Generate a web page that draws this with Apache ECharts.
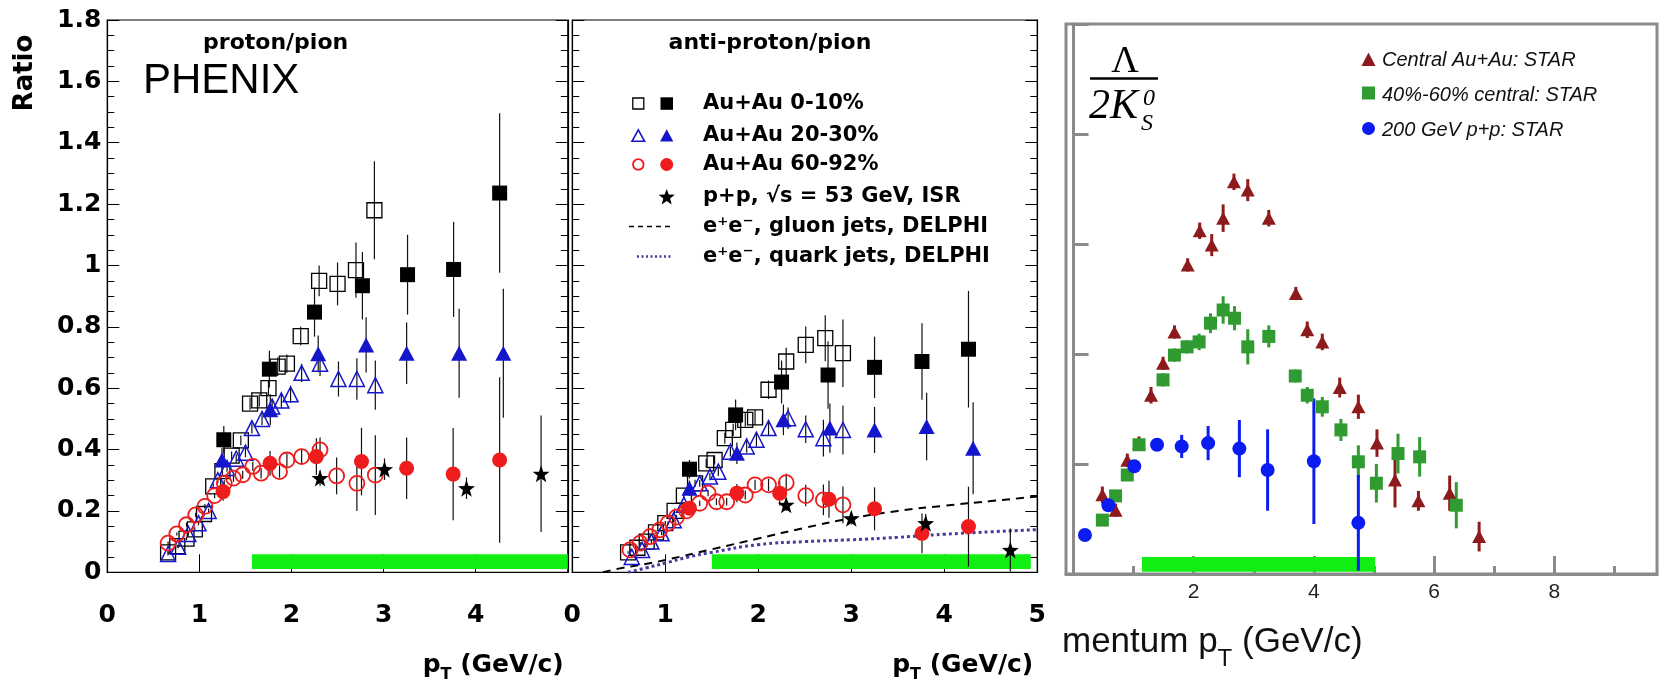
<!DOCTYPE html>
<html><head><meta charset="utf-8">
<script src="https://cdn.jsdelivr.net/npm/echarts@6/dist/echarts.min.js"></script>
<style>html,body{margin:0;padding:0;background:#fff}#c{width:1660px;height:682px}</style>
</head><body><div id="c"></div>
<script>
// ---------- Panel 1: proton/pion  [pT, ratio, err] ----------
const p_open_sq = [[0.66,0.065,0.005],[0.76,0.085,0.005],[0.86,0.11,0.006],[0.95,0.14,0.007],[1.05,0.19,0.008],[1.15,0.28,0.01],[1.25,0.33,0.012],[1.35,0.38,0.014],[1.45,0.43,0.016],[1.55,0.55,0.02],[1.65,0.56,0.02],[1.75,0.6,0.025],[1.85,0.67,0.03],[1.95,0.68,0.03],[2.1,0.77,0.03],[2.3,0.95,0.05],[2.5,0.94,0.07],[2.7,0.985,0.09],[2.9,1.18,0.16]];
const p_fill_sq = [[1.265,0.432,0.045],[1.76,0.662,0.06],[2.25,0.848,0.08],[2.77,0.934,0.11],[3.26,0.97,0.13],[3.76,0.987,0.155],[4.26,1.236,0.26]];
const p_open_tri = [[0.66,0.06,0.005],[0.77,0.083,0.005],[0.88,0.125,0.006],[0.99,0.16,0.007],[1.1,0.2,0.008],[1.2,0.3,0.01],[1.3,0.34,0.012],[1.4,0.37,0.014],[1.5,0.39,0.015],[1.57,0.47,0.018],[1.68,0.5,0.02],[1.79,0.54,0.022],[1.89,0.56,0.025],[1.99,0.58,0.028],[2.11,0.65,0.03],[2.31,0.68,0.04],[2.51,0.63,0.057],[2.71,0.63,0.068],[2.91,0.61,0.08]];
const p_fill_tri = [[1.245,0.366,0.04],[1.77,0.53,0.05],[2.29,0.712,0.06],[2.81,0.741,0.09],[3.25,0.714,0.1],[3.82,0.714,0.145],[4.30,0.714,0.21]];
const p_open_circ = [[0.66,0.095,0.005],[0.755,0.125,0.005],[0.86,0.155,0.006],[0.96,0.187,0.007],[1.06,0.215,0.008],[1.165,0.25,0.009],[1.27,0.29,0.01],[1.37,0.307,0.012],[1.47,0.318,0.013],[1.58,0.345,0.015],[1.67,0.323,0.017],[1.87,0.328,0.02],[1.95,0.366,0.022],[2.11,0.377,0.025],[2.31,0.399,0.04],[2.49,0.314,0.06],[2.71,0.29,0.09],[2.91,0.317,0.13]];
const p_fill_circ = [[1.257,0.263,0.03],[1.767,0.355,0.04],[2.27,0.377,0.06],[2.76,0.361,0.11],[3.25,0.339,0.1],[3.755,0.32,0.15],[4.26,0.366,0.27]];
const p_star = [[2.31,0.307,0.025],[3.01,0.336,0.035],[3.90,0.274,0.035],[4.71,0.321,0.19]];

// ---------- Panel 2: anti-proton/pion ----------
const pb_open_sq = [[0.6,0.065,0.004],[0.7,0.08,0.005],[0.8,0.1,0.005],[0.9,0.13,0.006],[1.0,0.16,0.007],[1.1,0.2,0.008],[1.2,0.25,0.01],[1.32,0.29,0.012],[1.44,0.355,0.014],[1.53,0.366,0.015],[1.64,0.437,0.018],[1.73,0.464,0.02],[1.86,0.497,0.022],[1.965,0.505,0.025],[2.11,0.595,0.03],[2.3,0.687,0.045],[2.51,0.741,0.06],[2.72,0.763,0.075],[2.91,0.714,0.11]];
const pb_fill_sq = [[1.26,0.336,0.03],[1.756,0.513,0.05],[2.25,0.62,0.07],[2.75,0.643,0.11],[3.25,0.668,0.1],[3.76,0.687,0.125],[4.26,0.727,0.19]];
const pb_open_tri = [[0.64,0.05,0.004],[0.75,0.073,0.004],[0.85,0.1,0.005],[0.96,0.127,0.006],[1.09,0.17,0.007],[1.2,0.22,0.009],[1.37,0.29,0.011],[1.48,0.312,0.012],[1.57,0.328,0.014],[1.7,0.393,0.016],[1.875,0.41,0.02],[1.98,0.432,0.022],[2.11,0.47,0.026],[2.32,0.502,0.035],[2.51,0.466,0.045],[2.70,0.437,0.06],[2.91,0.464,0.08]];
const pb_fill_tri = [[1.26,0.274,0.025],[1.77,0.388,0.035],[2.27,0.497,0.05],[2.77,0.47,0.08],[3.25,0.464,0.075],[3.81,0.475,0.11],[4.31,0.404,0.15]];
const pb_open_circ = [[0.62,0.073,0.004],[0.73,0.095,0.004],[0.835,0.116,0.005],[0.94,0.138,0.005],[1.03,0.16,0.006],[1.12,0.18,0.007],[1.23,0.2,0.008],[1.37,0.225,0.009],[1.46,0.258,0.01],[1.55,0.23,0.011],[1.66,0.23,0.012],[1.86,0.252,0.015],[1.965,0.285,0.017],[2.11,0.285,0.02],[2.3,0.292,0.03],[2.51,0.25,0.035],[2.7,0.236,0.05],[2.91,0.22,0.06]];
const pb_fill_circ = [[1.26,0.209,0.02],[1.77,0.258,0.03],[2.23,0.258,0.04],[2.76,0.238,0.06],[3.25,0.207,0.07],[3.76,0.127,0.065],[4.26,0.149,0.13]];
const pb_star = [[2.30,0.22,0.02],[3.0,0.176,0.02],[3.80,0.16,0.03],[4.71,0.073,0.07]];
const gluon_jets = [[0.33,0.0],[0.5,0.012],[0.75,0.025],[1.0,0.04],[1.5,0.075],[2.0,0.11],[2.5,0.145],[3.0,0.176],[3.5,0.2],[4.0,0.217],[4.5,0.232],[5.0,0.247]];
const quark_jets = [[0.6,0.0],[0.8,0.015],[1.0,0.03],[1.25,0.05],[1.5,0.065],[2.0,0.09],[2.5,0.1],[3.0,0.106],[3.5,0.114],[4.0,0.124],[4.5,0.132],[5.0,0.139]];

// ---------- Panel 3: Lambda / 2K0s ----------
const l_central = [[0.48,0.144,0.015],[0.70,0.116,0.012],[0.895,0.207,0.012],[1.09,0.238,0.012],[1.29,0.325,0.015],[1.49,0.383,0.012],[1.68,0.44,0.012],[1.90,0.562,0.012],[2.10,0.624,0.015],[2.30,0.598,0.02],[2.49,0.647,0.025],[2.67,0.713,0.015],[2.90,0.698,0.02],[3.25,0.647,0.015],[3.70,0.51,0.012],[3.89,0.444,0.015],[4.14,0.422,0.015],[4.43,0.339,0.018],[4.74,0.304,0.022],[5.05,0.238,0.025],[5.35,0.171,0.05],[5.74,0.133,0.018],[6.26,0.147,0.032],[6.75,0.068,0.027]];
const l_mid = [[0.48,0.098,0.01],[0.70,0.142,0.01],[0.895,0.18,0.01],[1.09,0.235,0.01],[1.49,0.353,0.012],[1.68,0.398,0.012],[1.89,0.413,0.012],[2.09,0.422,0.015],[2.28,0.456,0.018],[2.49,0.48,0.025],[2.68,0.465,0.022],[2.90,0.413,0.032],[3.25,0.432,0.02],[3.69,0.36,0.012],[3.89,0.325,0.015],[4.14,0.304,0.018],[4.45,0.262,0.02],[4.74,0.204,0.03],[5.04,0.165,0.035],[5.40,0.219,0.036],[5.76,0.213,0.036],[6.37,0.125,0.042]];
const l_pp = [[0.19,0.071,0.008],[0.58,0.125,0.006],[1.01,0.196,0.006],[1.39,0.235,0.008],[1.80,0.232,0.021],[2.24,0.238,0.031],[2.76,0.228,0.052],[3.23,0.189,0.074],[4.0,0.205,0.114],[4.74,0.093,0.087]];

// highlight bands [xStart, xEnd, yLow, yHigh]
const band1 = [[1.57,5.0,0.011,0.059]];
const band2 = [[1.50,4.93,0.011,0.059]];
const band3 = [[1.14,5.02,0.004,0.031]];

const xTicks3Major = [0,2,4,6,8];
const xTicks3Label = [2,4,6,8];
const xTicks3Minor = [1,3,5,7,9];

// ---------- styles ----------
const BLK='#000', BLU='#1515cc', RED='#ee1c1c';
const C_DR='#8e1b1b', C_GR='#2f9b30', C_BL='#0b1cf0';
const GREY='#8a8a8a', PURP='#4a3a9e';
const BF='DejaVu Sans';
const STAR='path://M0,-10 L2.35,-3.24 L9.51,-3.09 L3.8,1.24 L5.88,8.09 L0,4 L-5.88,8.09 L-3.8,1.24 L-9.51,-3.09 L-2.35,-3.24 Z';
const NONE='rgba(0,0,0,0)';

function starPts(cx, cy, R){
  const pts=[];
  for(let i=0;i<10;i++){const r=i%2?R*0.42:R; const a=-Math.PI/2+i*Math.PI/5; pts.push([cx+r*Math.cos(a), cy+r*Math.sin(a)]);}
  return pts;
}
function sc(data, xi, yi, symbol, size, fill, stroke, bw, z){
  return {type:'scatter', data:data.map(d=>[d[0],d[1]]), xAxisIndex:xi, yAxisIndex:yi,
    symbol, symbolSize:size, itemStyle:{color:fill, borderColor:stroke, borderWidth:bw, opacity:1},
    z, silent:true, animation:false};
}
function er(data, xi, yi, color, w, z){
  return {type:'custom', xAxisIndex:xi, yAxisIndex:yi,
    data:data.map(d=>[d[0], d[1]-d[2], d[1]+d[2]]), encode:{x:0, y:[1,2]},
    renderItem:(p,api)=>{const a=api.coord([api.value(0),api.value(1)]), b=api.coord([api.value(0),api.value(2)]);
      return {type:'line', shape:{x1:a[0],y1:a[1],x2:b[0],y2:b[1]}, style:{stroke:color, lineWidth:w}};},
    z, silent:true, animation:false};
}
function band(data, xi, yi){
  return {type:'custom', xAxisIndex:xi, yAxisIndex:yi, data, encode:{x:[0,1], y:[2,3]},
    renderItem:(p,api)=>{const a=api.coord([api.value(0),api.value(3)]), b=api.coord([api.value(1),api.value(2)]);
      return {type:'rect', shape:{x:a[0],y:a[1],width:b[0]-a[0],height:b[1]-a[1]}, style:{fill:'#11ee11'}};},
    z:1, silent:true, animation:false};
}

const yTickStyle = {show:true, inside:true, length:12, lineStyle:{color:BLK, width:1}};
const yMinor = {show:true, splitNumber:4, length:7, lineStyle:{color:BLK, width:1}};
function phY(grid, pos, labels){
  return {type:'value', gridIndex:grid, position:pos, min:0, max:1.8, interval:0.2,
    axisLine:{show:true, lineStyle:{color:BLK, width:1.2}}, axisTick:yTickStyle, minorTick:yMinor,
    splitLine:{show:false}, minorSplitLine:{show:false},
    axisLabel:{show:labels, fontFamily:BF, fontWeight:'bold', fontSize:25, color:BLK, margin:6}};
}
const ptRich = {a:{fontFamily:BF, fontWeight:'bold', fontSize:25, color:BLK, lineHeight:35, verticalAlign:'middle'},
                s:{fontFamily:BF, fontWeight:'bold', fontSize:16, color:BLK, verticalAlign:'bottom'}};
function phX(grid, hide5, gap){
  return {type:'value', gridIndex:grid, min:0, max:5, interval:1,
    axisLine:{show:true, lineStyle:{color:BLK, width:1.2}},
    axisTick:{show:true, inside:true, length:18, lineStyle:{color:BLK, width:1}},
    splitLine:{show:false},
    axisLabel:{fontFamily:BF, fontWeight:'bold', fontSize:25, color:BLK, margin:31,
      formatter:v=>(hide5 && v===5)?'':String(v)},
    name:'{a|p}{s|T}{a| (GeV/c)}', nameLocation:'end', nameGap:gap, nameMoveOverlap:false,
    nameTextStyle:{align:'right', verticalAlign:'top', padding:[76,0,0,0], rich:ptRich}};
}

const option = {
  backgroundColor:'#fff', animation:false,
  textStyle:{fontFamily:BF},
  grid:[
    {left:107.3, top:20, width:460.5, height:552.3, show:true, borderColor:BLK, borderWidth:1.2, backgroundColor:NONE, outerBoundsMode:'none'},
    {left:572.3, top:20, width:465, height:552.3, show:true, borderColor:BLK, borderWidth:1.2, backgroundColor:NONE, outerBoundsMode:'none'},
    {left:1066, top:24, width:591, height:550, show:true, borderColor:GREY, borderWidth:3, backgroundColor:NONE, outerBoundsMode:'none'},
    {left:1066, top:24, width:591, height:550, show:false, outerBoundsMode:'none'}
  ],
  xAxis:[
    phX(0, true, -4),
    phX(1, false, -4),
    {type:'value', gridIndex:2, min:-0.125, max:9.71,
      axisLine:{show:true, lineStyle:{color:GREY, width:3}},
      axisTick:{show:true, inside:true, length:18, customValues:xTicks3Major, lineStyle:{color:GREY, width:3}},
      axisLabel:{customValues:xTicks3Label, fontFamily:'Liberation Sans', fontSize:21, color:'#222', margin:8},
      splitLine:{show:false},
      name:'{a|mentum p}{s|T}{a| (GeV/c)}', nameLocation:'start', nameGap:4, nameMoveOverlap:false,
      nameTextStyle:{align:'left', verticalAlign:'top', padding:[39,0,0,0],
        rich:{a:{fontFamily:'Liberation Sans', fontSize:35, color:'#111', lineHeight:58, verticalAlign:'middle'},
              s:{fontFamily:'Liberation Sans', fontSize:24, color:'#111', verticalAlign:'bottom'}}}},
    {type:'value', gridIndex:3, min:-0.125, max:9.71,
      axisLine:{show:false}, axisLabel:{show:false}, splitLine:{show:false},
      axisTick:{show:true, inside:true, length:8, customValues:xTicks3Minor, lineStyle:{color:GREY, width:3}}}
  ],
  yAxis:[
    phY(0,'left',true), phY(0,'right',false), phY(1,'left',false), phY(1,'right',false),
    {type:'value', gridIndex:2, min:0, max:1, interval:0.2, position:'left',
      axisLine:{show:true, lineStyle:{color:GREY, width:3}},
      axisTick:{show:true, inside:true, length:15, lineStyle:{color:GREY, width:3}},
      axisLabel:{show:false}, splitLine:{show:false}},
    {type:'value', gridIndex:3, min:0, max:1, show:false}
  ],
  series:[
    band(band1,0,0), band(band2,1,2), band(band3,2,4),
    er(p_open_sq,0,0,'#111',1.2,3), er(p_fill_sq,0,0,'#111',1.2,3), er(p_open_tri,0,0,'#111',1.2,3),
    er(p_fill_tri,0,0,'#111',1.2,3), er(p_open_circ,0,0,'#111',1.2,3), er(p_fill_circ,0,0,'#111',1.2,3), er(p_star,0,0,'#111',1.2,3),
    sc(p_open_sq,0,0,'rect',15,NONE,BLK,1.3,5),
    sc(p_open_tri,0,0,'triangle',[15,15],NONE,BLU,1.5,5),
    sc(p_open_circ,0,0,'circle',15,NONE,RED,1.8,5),
    sc(p_fill_sq,0,0,'rect',15,BLK,BLK,0,6),
    sc(p_fill_tri,0,0,'triangle',[16,15],BLU,BLU,0,6),
    sc(p_fill_circ,0,0,'circle',15,RED,RED,0,6),
    sc(p_star,0,0,STAR,17,BLK,BLK,0,7),
    {type:'line', xAxisIndex:1, yAxisIndex:2, data:gluon_jets, smooth:true, showSymbol:false, silent:true,
      lineStyle:{color:BLK, width:2, type:[8,6]}, z:2},
    {type:'line', xAxisIndex:1, yAxisIndex:2, data:quark_jets, smooth:true, showSymbol:false, silent:true,
      lineStyle:{color:PURP, width:3, type:[3,3]}, z:2},
    er(pb_open_sq,1,2,'#111',1.2,3), er(pb_fill_sq,1,2,'#111',1.2,3), er(pb_open_tri,1,2,'#111',1.2,3),
    er(pb_fill_tri,1,2,'#111',1.2,3), er(pb_open_circ,1,2,'#111',1.2,3), er(pb_fill_circ,1,2,'#111',1.2,3), er(pb_star,1,2,'#111',1.2,3),
    sc(pb_open_sq,1,2,'rect',15,NONE,BLK,1.3,5),
    sc(pb_open_tri,1,2,'triangle',[15,15],NONE,BLU,1.5,5),
    sc(pb_open_circ,1,2,'circle',15,NONE,RED,1.8,5),
    sc(pb_fill_sq,1,2,'rect',15,BLK,BLK,0,6),
    sc(pb_fill_tri,1,2,'triangle',[16,15],BLU,BLU,0,6),
    sc(pb_fill_circ,1,2,'circle',15,RED,RED,0,6),
    sc(pb_star,1,2,STAR,17,BLK,BLK,0,7),
    er(l_central,2,4,C_DR,3,3), er(l_mid,2,4,C_GR,3,3), er(l_pp,2,4,C_BL,3,3),
    sc(l_central,2,4,'triangle',[14,13],C_DR,C_DR,0,5),
    sc(l_mid,2,4,'rect',13,C_GR,C_GR,0,5),
    sc(l_pp,2,4,'circle',14,C_BL,C_BL,0,6)
  ],
  graphic:{elements:[
    {type:'text', x:25, y:73, rotation:Math.PI/2, z:100, style:{text:'Ratio', font:'bold 26px "DejaVu Sans"', fill:BLK, align:'center', verticalAlign:'middle'}},
    {type:'text', x:143, y:81, z:100, style:{text:'PHENIX', font:'42px "Liberation Sans"', fill:BLK, align:'left', verticalAlign:'middle'}},
    {type:'text', x:275.6, y:43, z:100, style:{text:'proton/pion', font:'bold 22px "DejaVu Sans"', fill:BLK, align:'center', verticalAlign:'middle'}},
    {type:'text', x:770, y:43, z:100, style:{text:'anti-proton/pion', font:'bold 22px "DejaVu Sans"', fill:BLK, align:'center', verticalAlign:'middle'}},
    {type:'rect', z:100, shape:{x:632.8,y:98,width:11,height:11}, style:{fill:NONE, stroke:BLK, lineWidth:1.3}},
    {type:'rect', z:100, shape:{x:660.5,y:97.3,width:12.5,height:12.5}, style:{fill:BLK}},
    {type:'polygon', z:100, shape:{points:[[638.3,129.8],[644.6,141.3],[632,141.3]]}, style:{fill:NONE, stroke:BLU, lineWidth:1.6}},
    {type:'polygon', z:100, shape:{points:[[666.7,129.3],[673.3,141.6],[660.1,141.6]]}, style:{fill:BLU}},
    {type:'circle', z:100, shape:{cx:638.3,cy:164.5,r:5.3}, style:{fill:NONE, stroke:RED, lineWidth:1.8}},
    {type:'circle', z:100, shape:{cx:666.7,cy:164.5,r:6.5}, style:{fill:RED}},
    {type:'polygon', z:100, shape:{points:starPts(666.7,197.5,8.5)}, style:{fill:BLK}},
    {type:'line', z:100, shape:{x1:629,y1:226.5,x2:673,y2:226.5}, style:{stroke:BLK, lineWidth:1.5, lineDash:[5,4]}},
    {type:'line', z:100, shape:{x1:637,y1:256.5,x2:672,y2:256.5}, style:{stroke:PURP, lineWidth:2.4, lineDash:[2,2.5]}},
    {type:'text', x:703, y:103.5, z:100, style:{text:'Au+Au 0-10%', font:'bold 21px "DejaVu Sans"', fill:BLK, verticalAlign:'middle'}},
    {type:'text', x:703, y:135.5, z:100, style:{text:'Au+Au 20-30%', font:'bold 21px "DejaVu Sans"', fill:BLK, verticalAlign:'middle'}},
    {type:'text', x:703, y:164.5, z:100, style:{text:'Au+Au 60-92%', font:'bold 21px "DejaVu Sans"', fill:BLK, verticalAlign:'middle'}},
    {type:'text', x:703, y:196.5, z:100, style:{text:'p+p, √s = 53 GeV, ISR', font:'bold 21px "DejaVu Sans"', fill:BLK, verticalAlign:'middle'}},
    {type:'text', x:703, y:226.5, z:100, style:{text:'e⁺e⁻, gluon jets, DELPHI', font:'bold 21px "DejaVu Sans"', fill:BLK, verticalAlign:'middle'}},
    {type:'text', x:703, y:256.5, z:100, style:{text:'e⁺e⁻, quark jets, DELPHI', font:'bold 21px "DejaVu Sans"', fill:BLK, verticalAlign:'middle'}},
    {type:'text', x:1125, y:62, z:100, style:{text:'Λ', font:'38px "Liberation Serif"', fill:BLK, align:'center', verticalAlign:'middle'}},
    {type:'line', z:100, shape:{x1:1090,y1:78.5,x2:1158,y2:78.5}, style:{stroke:BLK, lineWidth:2.5}},
    {type:'text', x:1089, y:107, z:100, style:{text:'2K', font:'italic 42px "Liberation Serif"', fill:BLK, verticalAlign:'middle'}},
    {type:'text', x:1143, y:99, z:100, style:{text:'0', font:'italic 24px "Liberation Serif"', fill:BLK, verticalAlign:'middle'}},
    {type:'text', x:1141, y:124, z:100, style:{text:'S', font:'italic 24px "Liberation Serif"', fill:BLK, verticalAlign:'middle'}},
    {type:'polygon', z:100, shape:{points:[[1368.5,52.5],[1375.5,66],[1361.5,66]]}, style:{fill:C_DR}},
    {type:'rect', z:100, shape:{x:1362,y:86.5,width:13,height:13}, style:{fill:C_GR}},
    {type:'circle', z:100, shape:{cx:1368.5,cy:128.5,r:6.5}, style:{fill:C_BL}},
    {type:'text', x:1382, y:60, z:100, style:{text:'Central Au+Au: STAR', font:'italic 20px "Liberation Sans"', fill:'#111', verticalAlign:'middle'}},
    {type:'text', x:1382, y:95.5, z:100, style:{text:'40%-60% central: STAR', font:'italic 20px "Liberation Sans"', fill:'#111', verticalAlign:'middle'}},
    {type:'text', x:1382, y:130, z:100, style:{text:'200 GeV p+p: STAR', font:'italic 20px "Liberation Sans"', fill:'#111', verticalAlign:'middle'}}
  ]}
};
const chart = echarts.init(document.getElementById('c'), null, {renderer:'canvas'});
chart.setOption(option);
</script></body></html>
